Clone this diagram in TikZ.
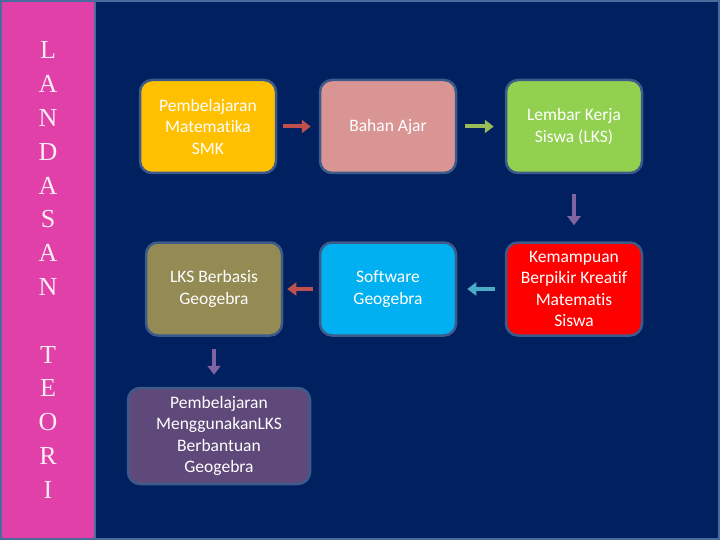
\documentclass[tikz,border=0pt]{standalone}
\usepackage{fontspec}
\setmainfont{Carlito}[Ligatures=NoCommon]
\newfontfamily\serifletters{Liberation Serif}
\usetikzlibrary{arrows.meta}
\definecolor{navy}{HTML}{002060}
\definecolor{framec}{HTML}{4A6A9E}
\definecolor{pinkstrip}{HTML}{E040A8}
\definecolor{boxedge}{HTML}{3D5A8A}
\definecolor{cyellow}{HTML}{FFC000}
\definecolor{cpink}{HTML}{D99594}
\definecolor{cgreen}{HTML}{92D050}
\definecolor{colive}{HTML}{948A54}
\definecolor{ccyan}{HTML}{00B0F0}
\definecolor{cred}{HTML}{FF0000}
\definecolor{cpurple}{HTML}{5F497A}
\definecolor{arred}{HTML}{C0504D}
\definecolor{argreen}{HTML}{9BBB59}
\definecolor{arpurple}{HTML}{8064A2}
\definecolor{arcyan}{HTML}{4BACC6}
\tikzset{
  flowbox/.style={draw=boxedge, line width=2.5pt, rounded corners=12pt,
    minimum width=136pt, minimum height=93pt, align=center, text=white,
    font=\fontsize{17.5}{21.5}\selectfont, inner sep=1pt},
  flowarrow/.style={line width=4pt, -{Triangle[length=9pt,width=13pt]}}
}
\begin{document}
\begin{tikzpicture}[x=1pt,y=-1pt]
\useasboundingbox (0,0) rectangle (720,540);
\fill[navy] (0,0) rectangle (720,540);
\draw[framec, line width=2pt] (1,1) rectangle (719,539);
\fill[pinkstrip] (2,2) rectangle (94,538);
\draw[framec, line width=2pt] (95,1) -- (95,539);
\node[text=white!90!pinkstrip, align=center, font=\serifletters\fontsize{26}{33.8}\selectfont, inner sep=0pt] (strip) at (48,270)
  {L\\A\\N\\D\\A\\S\\A\\N\\[33.8pt]T\\E\\O\\R\\I};

\node[flowbox, fill=cyellow] (b1) at (208,126.5) {Pembelajaran\\Matematika\\SMK};
\node[flowbox, fill=cpink] (b2) at (388,126.5) {Bahan Ajar};
\node[flowbox, fill=cgreen] (b3) at (574,126.5) {Lembar Kerja\\Siswa (LKS)};
\node[flowbox, fill=colive] (b4) at (214,289) {LKS Berbasis\\Geogebra};
\node[flowbox, fill=ccyan] (b5) at (388,289) {Software\\Geogebra};
\node[flowbox, fill=cred] (b6) at (574,289) {Kemampuan\\Berpikir Kreatif\\Matematis\\Siswa};
\node[flowbox, fill=cpurple, minimum width=182pt, minimum height=96pt] (b7) at (219,436) {Pembelajaran\\MenggunakanLKS\\Berbantuan\\Geogebra};

\draw[flowarrow, arred] ([xshift=6pt]b1.east) -- ([xshift=-8pt]b2.west);
\draw[flowarrow, argreen] ([xshift=8pt]b2.east) -- ([xshift=-11pt]b3.west);
\draw[flowarrow, arpurple] ([yshift=-20pt]b3.south) -- ([yshift=16pt]b6.north);
\draw[flowarrow, arcyan] ([xshift=-10pt]b6.west) -- ([xshift=10pt]b5.east);
\draw[flowarrow, arred] ([xshift=-6pt]b5.west) -- ([xshift=4pt]b4.east);
\draw[flowarrow, arpurple] ([yshift=-12pt]b4.south) -- ([yshift=12pt]b7.north -| b4.south);
\end{tikzpicture}
\end{document}
